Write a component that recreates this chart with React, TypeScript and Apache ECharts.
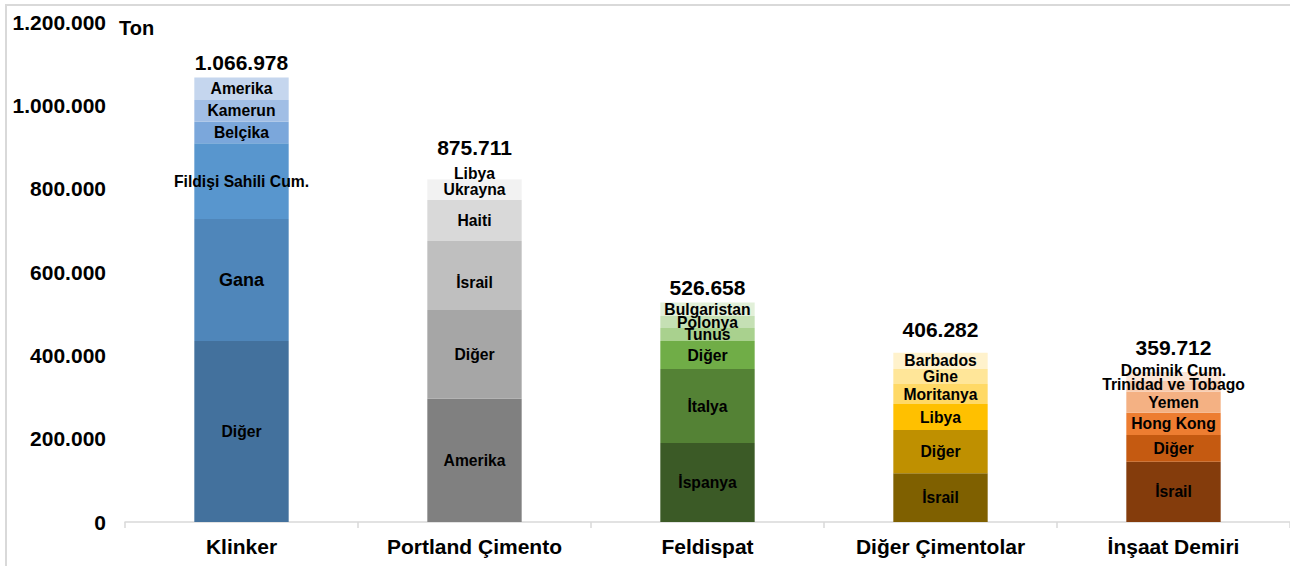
import React, { useEffect, useRef } from "react";
import * as echarts from "echarts";

const categories = ["Klinker", "Portland Çimento", "Feldispat", "Diğer Çimentolar", "İnşaat Demiri"];
const totals = [1066978, 875711, 526658, 406282, 359712];

// stacked segments, bottom to top
const klinkerNames = ["Diğer", "Gana", "Fildişi Sahili Cum.", "Belçika", "Kamerun", "Amerika"];
const klinkerValues = [434400, 292800, 181600, 52100, 51900, 54178];

const portlandNames = ["Amerika", "Diğer", "İsrail", "Haiti", "Ukrayna", "Libya"];
const portlandValues = [296000, 212800, 165600, 98400, 49600, 53311];

const feldispatNames = ["İspanya", "İtalya", "Diğer", "Tunus", "Polonya", "Bulgaristan"];
const feldispatValues = [189600, 177600, 67200, 31200, 28800, 32258];

const digerCimNames = ["İsrail", "Diğer", "Libya", "Moritanya", "Gine", "Barbados"];
const digerCimValues = [116900, 103900, 62400, 48000, 36000, 39082];

const insaatNames = ["İsrail", "Diğer", "Hong Kong", "Yemen", "Trinidad ve Tobago", "Dominik Cum."];
const insaatValues = [144800, 64000, 53600, 50400, 27000, 19912];

const yTicks = [0, 200000, 400000, 600000, 800000, 1000000, 1200000];

// styles
const klinkerColors = ["#43719d", "#4f86ba", "#5896ce", "#7ba7db", "#a1bee5", "#c5d6ee"];
const portlandColors = ["#808080", "#a6a6a6", "#bfbfbf", "#d9d9d9", "#f2f2f2", "#ffffff"];
const feldispatColors = ["#3b5a26", "#548235", "#70ad47", "#a9d18e", "#c5e0b4", "#e2f0d9"];
const digerCimColors = ["#7f6000", "#bf9000", "#ffc000", "#ffd966", "#ffe699", "#fff2cc"];
const insaatColors = ["#843c0c", "#c55a11", "#ed7d31", "#f4b183", "#f8cbad", "#fbe5d6"];

const allNames = [klinkerNames, portlandNames, feldispatNames, digerCimNames, insaatNames];
const allValues = [klinkerValues, portlandValues, feldispatValues, digerCimValues, insaatValues];
const allColors = [klinkerColors, portlandColors, feldispatColors, digerCimColors, insaatColors];

const labelOffsets: Record<string, number[]> = {
  "1-2": [0, 7],
  "1-5": [0, 5],
  "4-4": [0, -2],
  "4-5": [0, -6],
};
const labelSizes: Record<string, number> = { "0-1": 18 };
const totalDistances = [4, -1, 5, 13, 14];

const FONT = "'Liberation Sans', Arial, sans-serif";
const fmt = (v: number) => String(v).replace(/\B(?=(\d{3})+(?!\d))/g, ".");

export default function App() {
  const ref = useRef<HTMLDivElement>(null);

  useEffect(() => {
    if (!ref.current) return;
    const chart = echarts.init(ref.current, undefined, { renderer: "svg" });

    const layers = [0, 1, 2, 3, 4, 5];
    const barSeries = layers.map((k) => ({
      type: "bar",
      stack: "total",
      barWidth: "40.5%",
      silent: true,
      data: categories.map((_, j) => ({
        value: allValues[j][k],
        country: allNames[j][k],
        itemStyle: { color: allColors[j][k] },
        label: {
          offset: labelOffsets[`${j}-${k}`] || [0, 0],
          fontSize: labelSizes[`${j}-${k}`] || 15.7,
        },
      })),
      label: {
        show: true,
        position: "inside",
        color: "#000",
        fontWeight: "bold",
        fontFamily: FONT,
        formatter: (p: any) => p.data.country,
      },
    }));

    const totalSeries = {
      type: "bar",
      stack: "total",
      barWidth: "40.5%",
      silent: true,
      itemStyle: { color: "rgba(0,0,0,0)" },
      data: categories.map((_, j) => ({
        value: 0,
        total: totals[j],
        label: { distance: totalDistances[j] },
      })),
      label: {
        show: true,
        position: "top",
        color: "#000000",
        fontWeight: "bold",
        fontSize: 21,
        fontFamily: FONT,
        formatter: (p: any) => fmt(p.data.total),
      },
    };

    chart.setOption({
      animation: false,
      backgroundColor: "#ffffff",
      grid: { left: 125, right: -7, top: 22, bottom: 44 },
      xAxis: {
        type: "category",
        data: categories,
        axisLine: { show: true, lineStyle: { color: "#d9d9d9", width: 1.5 } },
        axisTick: { show: true, length: 6, lineStyle: { color: "#d9d9d9", width: 1.5 } },
        axisLabel: {
          color: "#000",
          fontWeight: "bold",
          fontSize: 21,
          fontFamily: FONT,
          margin: 14,
        },
      },
      yAxis: {
        type: "value",
        min: yTicks[0],
        max: yTicks[yTicks.length - 1],
        interval: yTicks[1] - yTicks[0],
        splitLine: { show: false },
        axisLine: { show: false },
        axisTick: { show: false },
        axisLabel: {
          color: "#000",
          fontWeight: "bold",
          fontSize: 21,
          fontFamily: FONT,
          margin: 19,
          formatter: (v: number) => fmt(v),
        },
      },
      graphic: [
        {
          type: "rect",
          silent: true,
          shape: { x: 6, y: 5, width: 1400, height: 700 },
          style: { fill: "none", stroke: "#d9d9d9", lineWidth: 2 },
          z: 100,
        },
        {
          type: "text",
          left: 119,
          top: 18,
          style: {
            text: "Ton",
            fill: "#000",
            fontWeight: "bold",
            fontSize: 20,
            fontFamily: FONT,
          },
        },
      ],
      series: [...barSeries, totalSeries],
    });

    return () => chart.dispose();
  }, []);

  return (
    <div
      ref={ref}
      style={{ position: "absolute", left: 0, top: 0, width: 1290, height: 566 }}
    />
  );
}
